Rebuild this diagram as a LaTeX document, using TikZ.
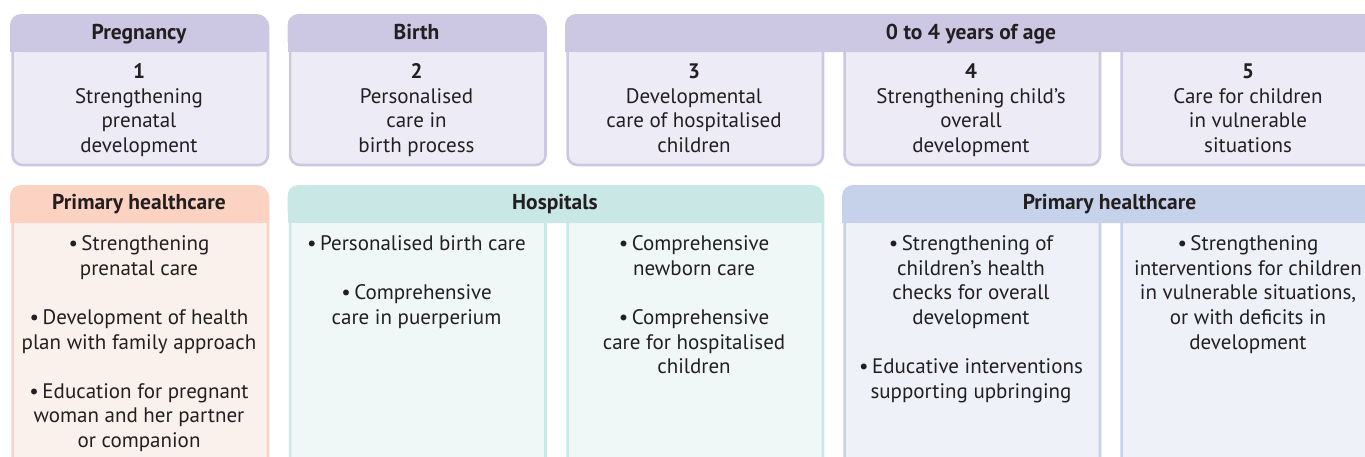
\documentclass[tikz,border=0pt]{standalone}
\usepackage{fontspec}
\setmainfont{PT Sans}
\definecolor{ink}{HTML}{231F20}
\definecolor{purpB}{HTML}{CCC7E2}
\definecolor{purpL}{HTML}{EDEBF5}
\definecolor{salB}{HTML}{FCD3C3}
\definecolor{salL}{HTML}{FBF1EC}
\definecolor{tealB}{HTML}{C8E7E5}
\definecolor{tealL}{HTML}{EFF8F7}
\definecolor{blueB}{HTML}{C6D2EA}
\definecolor{blueL}{HTML}{EEF1F8}
\newcommand{\fl}{\rule{0pt}{15.5pt}}
\tikzset{
  cellbox/.style={rounded corners=10pt, line width=2.6pt, anchor=north west, inner sep=0pt,
    minimum width=255.4pt},
  topbox/.style={cellbox, draw=purpB, fill=purpL, minimum height=148.4pt},
  lowbox/.style={cellbox, minimum height=290pt},
  hdrtext/.style={font=\bfseries\fontsize{21.5}{24}\selectfont, text=ink, inner sep=0pt, anchor=base},
  bodytext/.style={font=\fontsize{21}{24.6}\selectfont, text=ink, align=center, inner sep=0pt, anchor=north},
}
\begin{document}
\begin{tikzpicture}[x=1pt,y=-1pt]
\useasboundingbox (0,0) rectangle (1365,456);
\clip (0,0) rectangle (1365,456);

% ---------- top row boxes ----------
\node[topbox] (tb1) at (11.3,15.3) {};
\node[topbox] (tb2) at (288.8,15.3) {};
\node[topbox] (tb3) at (566.3,15.3) {};
\node[topbox] (tb4) at (843.3,15.3) {};
\node[topbox] (tb5) at (1120.3,15.3) {};

% ---------- top row headers ----------
\fill[purpB, rounded corners=11pt] (10,14) rectangle (268,52);
\fill[purpB] (10,34) rectangle (268,52);
\fill[purpB, rounded corners=11pt] (287.5,14) rectangle (545.5,52);
\fill[purpB] (287.5,34) rectangle (545.5,52);
\fill[purpB, rounded corners=11pt] (565,14) rectangle (1377,52);
\fill[purpB] (565,34) rectangle (1377,52);

\node[hdrtext] (h1) at (139,39.5) {Pregnancy};
\node[hdrtext] (h2) at (416.5,39.5) {Birth};
\node[hdrtext] (h3) at (971,39.5) {0 to 4 years of age};

\node[bodytext] (t1) at (139,63) {\fl\textbf{1}\\Strengthening\\prenatal\\development};
\node[bodytext] (t2) at (416.5,63) {\fl\textbf{2}\\Personalised\\care in\\birth process};
\node[bodytext] (t3) at (694,63) {\fl\textbf{3}\\Developmental\\care of hospitalised\\children};
\node[bodytext] (t4) at (971,63) {\fl\textbf{4}\\Strengthening child’s\\overall\\development};
\node[bodytext] (t5) at (1248,63) {\fl\textbf{5}\\Care for children\\in vulnerable\\situations};

% ---------- bottom row boxes ----------
\node[lowbox, draw=salB, fill=salL] (bb1) at (11.3,186.3) {};
\node[lowbox, draw=tealB, fill=tealL] (bb2) at (288.8,186.3) {};
\node[lowbox, draw=tealB, fill=tealL] (bb3) at (566.3,186.3) {};
\node[lowbox, draw=blueB, fill=blueL] (bb4) at (843.3,186.3) {};
\node[lowbox, draw=blueB, fill=blueL] (bb5) at (1120.3,186.3) {};

% ---------- bottom row headers ----------
\fill[salB, rounded corners=11pt] (10,185) rectangle (268,223);
\fill[salB] (10,205) rectangle (268,223);
\fill[tealB, rounded corners=11pt] (287.5,185) rectangle (823,223);
\fill[tealB] (287.5,205) rectangle (823,223);
\fill[blueB, rounded corners=11pt] (842,185) rectangle (1377,223);
\fill[blueB] (842,205) rectangle (1377,223);

\node[hdrtext] (g1) at (139,209.5) {Primary healthcare};
\node[hdrtext] (g2) at (555,209.5) {Hospitals};
\node[hdrtext] (g3) at (1109.5,209.5) {Primary healthcare};

\node[bodytext] (u1) at (139,235) {\fl\textbullet\,Strengthening\\prenatal care\\[24.6pt]\textbullet\,Development of health\\plan with family approach\\[24.6pt]\textbullet\,Education for pregnant\\woman and her partner\\or companion};
\node[bodytext] (u2) at (416.5,235) {\fl\textbullet\,Personalised birth care\\[24.6pt]\textbullet\,Comprehensive\\care in puerperium};
\node[bodytext] (u3) at (694,235) {\fl\textbullet\,Comprehensive\\newborn care\\[24.6pt]\textbullet\,Comprehensive\\care for hospitalised\\children};
\node[bodytext] (u4) at (971,235) {\fl\textbullet\,Strengthening of\\children’s health\\checks for overall\\development\\[24.6pt]\textbullet\,Educative interventions\\supporting upbringing};
\node[bodytext] (u5) at (1248,235) {\fl\textbullet\,Strengthening\\interventions for children\\in vulnerable situations,\\or with deficits in\\development};
\end{tikzpicture}
\end{document}
